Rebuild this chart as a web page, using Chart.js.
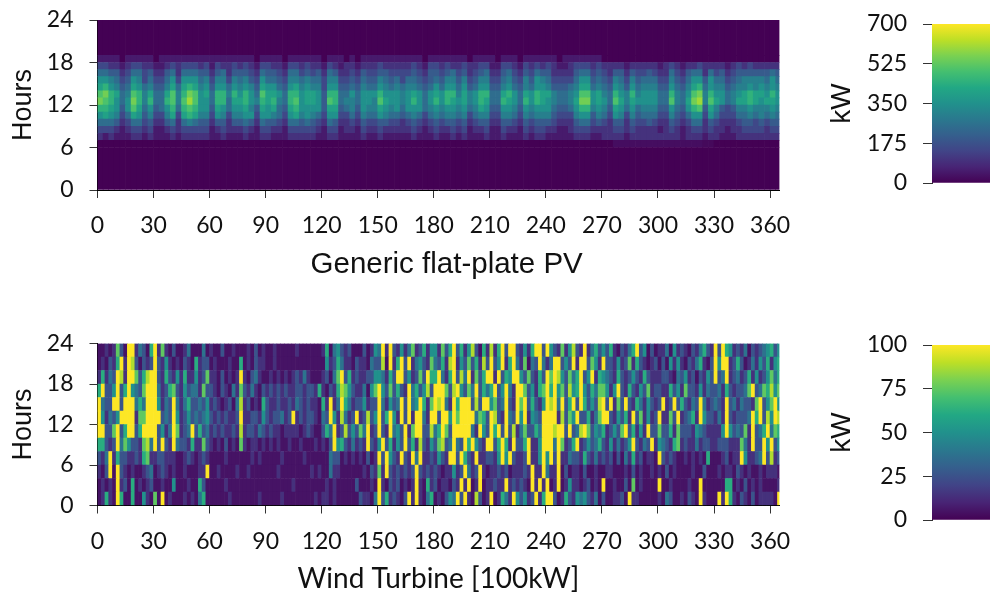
<!DOCTYPE html>
<html><head><meta charset="utf-8">
<script src="https://cdn.jsdelivr.net/npm/chart.js@4"></script>
<style>html,body{margin:0;padding:0;background:#fff;width:991px;height:597px;overflow:hidden}canvas{position:absolute}</style>
</head><body>
<canvas id="pv" style="left:0;top:0" width="800" height="290"></canvas>
<canvas id="wind" style="left:0;top:300px" width="800" height="297"></canvas>
<canvas id="pvBar" style="left:800px;top:0" width="191" height="200"></canvas>
<canvas id="windBar" style="left:800px;top:330px" width="191" height="200"></canvas>
<script>
// Axis ticks
const xStep = 30, hourStep = 6, hourMax = 24, dayMax = 365;
const pvBarMax = 700, pvBarStep = 175, windBarMax = 100, windBarStep = 25;
// Values, in levels per column. One PV level = 50 kW (3-day columns, 1-hour rows).
const pvKwPerLevel = 50;
const pvH18=[1,1,1,1,0,1,1,1,1,1,0,1,1,1,1,1,1,1,1,1,1,1,1,1,1,1,1,1,0,1,1,1,1,0,1,1,1,1,1,1,0,1,1,1,0,1,0,1,1,1,1,1,1,1,1,1,1,1,0,1,1,1,1,1,1,1,0,1,1,1,1,0,1,1,1,0,1,1,1,1,1,1,0,1,1,1,1,1,1,1,0,0,0,0,0,0,0,0,0,0,0,0,0,0,0,0,0,0,0,0,0,0,0,0,0,0,0,0,0,0,0,0];
const pvH17=[3,3,2,2,1,2,3,3,2,2,1,1,2,3,2,3,3,3,2,3,1,3,2,2,3,2,3,2,1,3,3,2,2,1,3,3,2,3,2,2,1,3,2,1,2,2,1,2,2,2,3,2,2,2,2,2,3,2,1,3,3,2,3,2,2,3,2,2,3,3,1,1,3,3,2,1,3,2,3,2,3,2,1,1,2,3,3,3,2,3,2,2,2,2,1,2,2,2,2,2,1,2,3,2,1,2,2,3,2,2,2,2,1,2,3,2,3,2,2,2,2,2];
const pvH16=[5,5,4,4,2,3,5,5,3,4,2,2,4,5,2,5,5,5,4,4,2,4,5,2,4,4,4,3,2,5,4,4,3,2,5,5,3,4,3,4,2,5,4,2,2,3,2,4,3,3,4,4,3,3,3,3,4,3,2,4,4,3,4,5,3,4,2,3,4,5,2,2,4,5,3,2,4,3,5,4,4,2,2,2,2,4,5,5,3,4,3,2,4,4,2,4,3,3,4,3,2,2,5,3,2,4,5,5,2,5,3,4,2,3,4,4,4,4,4,4,5,4];
const pvH15=[7,7,6,5,3,4,7,6,3,5,3,3,5,7,3,7,7,7,5,6,3,6,6,3,6,5,6,4,3,7,5,5,4,3,6,6,5,6,5,5,3,6,6,3,3,4,3,5,4,4,6,5,4,5,3,5,5,4,3,4,5,4,6,6,4,6,3,4,6,6,3,3,5,6,4,3,6,4,7,6,5,3,3,3,3,5,7,7,4,5,4,3,6,5,3,6,4,5,5,5,3,3,6,4,3,5,7,7,4,7,5,5,3,4,5,6,6,6,6,5,7,5];
const pvH14=[8,9,7,6,4,5,8,7,5,6,4,4,6,8,5,8,9,8,6,7,4,7,7,5,7,6,7,6,4,8,7,7,5,4,7,8,6,7,6,6,3,7,7,4,4,5,4,6,5,5,7,6,5,6,5,6,6,5,4,5,7,5,7,7,5,7,4,5,7,7,4,4,6,7,5,4,6,5,7,7,6,4,4,4,5,6,8,8,5,6,5,4,7,6,4,7,5,6,6,6,4,4,7,5,4,6,8,9,5,7,6,6,4,5,6,6,7,6,7,6,7,6];
const pvH13=[10,11,9,8,5,6,10,9,6,8,5,5,8,10,6,9,11,10,7,8,5,9,9,6,9,7,9,7,5,10,8,8,7,5,9,9,7,8,8,7,4,9,9,5,5,7,5,7,7,7,9,7,7,7,6,7,8,7,5,7,8,7,9,9,6,8,6,7,9,9,5,5,8,9,7,5,8,7,9,8,8,6,5,5,6,7,10,10,7,8,6,5,9,7,6,9,6,7,7,7,5,5,9,6,5,7,10,11,6,9,7,7,5,6,7,8,9,8,8,7,9,7];
const pvH12=[11,10,9,7,5,7,11,9,6,9,5,5,9,10,6,10,12,10,7,7,5,9,9,5,8,8,9,7,6,9,8,9,6,5,9,10,7,8,8,7,4,10,9,5,6,6,5,7,7,6,10,8,7,7,6,7,9,7,5,7,9,7,9,8,7,8,6,7,9,8,5,5,9,8,7,5,9,7,9,8,7,6,5,5,6,8,11,11,7,8,7,5,10,8,6,8,7,7,7,7,5,5,10,6,5,8,11,12,6,10,8,7,5,6,8,8,9,8,7,8,8,7];
const pvH11=[9,9,8,7,4,7,10,8,5,7,4,5,7,9,5,9,10,9,7,7,4,8,7,5,7,7,8,6,4,8,7,8,5,4,8,9,7,7,7,7,4,8,8,4,5,6,4,7,6,6,8,7,6,7,5,7,7,7,5,6,7,6,7,7,6,7,5,6,8,7,4,4,7,7,6,4,7,6,7,7,7,5,4,4,5,7,9,9,6,7,6,4,8,7,5,7,5,6,6,6,4,4,7,5,4,7,9,10,4,8,6,4,3,4,6,6,7,6,6,6,7,6];
const pvH10=[7,8,7,6,3,5,8,7,4,6,3,3,6,8,3,8,9,8,6,6,3,7,6,3,6,6,7,7,3,7,7,6,5,3,7,8,6,7,6,5,3,7,7,3,3,5,3,6,5,5,7,6,5,5,4,5,6,5,3,5,6,5,6,6,5,6,3,5,6,6,3,3,6,6,5,3,6,5,6,6,6,4,3,3,3,6,7,7,4,6,5,3,7,6,3,6,4,5,5,5,3,3,6,4,3,5,7,7,3,7,5,3,3,3,5,5,6,5,6,5,6,5];
const pvH9=[5,5,5,4,2,3,5,5,3,4,2,2,4,5,2,5,6,5,4,4,2,4,4,2,4,4,5,4,2,5,4,4,3,2,5,5,4,5,4,3,2,5,4,2,2,3,2,4,3,3,4,4,3,3,2,3,4,3,2,3,4,3,4,4,3,4,2,3,4,4,2,2,4,4,3,2,4,3,4,4,4,3,2,2,2,4,5,5,3,4,3,2,4,4,2,4,3,3,4,3,2,2,4,3,2,3,5,5,2,4,3,2,2,2,3,4,4,3,4,3,4,4];
const pvH8=[3,3,3,2,1,2,3,3,2,3,1,1,2,3,2,3,3,3,3,3,1,2,3,2,2,2,3,2,1,3,3,2,2,1,3,3,3,3,3,2,1,3,3,1,2,2,1,3,2,2,3,2,2,2,2,2,3,2,1,2,3,2,2,3,2,3,1,2,2,3,1,1,3,2,2,1,3,2,3,3,2,2,1,1,2,3,3,3,2,2,2,2,3,3,2,3,2,2,2,2,1,2,3,2,1,2,3,3,2,3,2,2,1,2,2,3,3,3,3,2,3,3];
const pvH7=[2,1,2,1,1,1,2,2,1,2,1,1,1,2,1,2,2,2,2,2,1,1,2,1,1,1,2,1,1,2,2,1,1,1,2,2,2,2,2,1,1,2,2,1,1,1,1,2,1,1,2,1,1,1,1,1,2,1,1,1,2,1,1,2,1,2,1,1,1,2,1,1,2,1,1,1,2,1,2,2,1,1,1,1,1,2,2,2,1,1,2,2,2,2,1,2,2,2,2,2,2,2,2,2,1,2,2,2,1,2,2,1,1,1,2,2,2,2,2,2,2,2];
const pvH6=[0,0,0,0,0,0,0,0,0,0,0,0,0,0,0,0,0,0,0,0,0,0,0,0,0,0,0,0,0,0,0,0,0,0,0,0,0,0,0,0,0,0,0,0,0,0,0,0,0,0,0,0,0,0,0,0,0,0,0,0,0,0,0,0,0,0,0,0,0,0,0,0,0,0,0,0,0,0,0,0,0,0,0,0,0,0,0,0,0,0,0,0,.5,.5,.5,.5,.5,.5,.5,.5,.5,.5,.5,.5,.5,.5,.5,.5,.3,.3,0,0,0,0,0,0,0,0,0,0,0,0];
// Wind levels 0-9 and the kW each level stands for (2-day columns, 2-hour rows).
const windLevelKw = [0,5,14,26,38,50,62,75,88,100];
const windH22=[1,1,2,1,2,7,3,1,9,9,2,4,3,1,6,9,2,7,2,1,3,1,1,2,4,1,1,1,4,1,2,1,1,3,1,1,2,1,1,1,2,1,3,1,2,1,1,2,1,1,1,1,1,2,1,1,1,1,1,1,2,6,1,4,5,3,2,3,1,1,1,3,1,2,5,4,9,2,9,3,2,5,2,4,7,2,3,6,2,5,5,2,7,3,6,9,3,6,2,5,8,3,1,6,2,8,2,6,9,3,9,9,3,2,5,2,6,9,9,3,9,5,3,2,7,2,5,8,3,2,9,2,4,6,3,5,3,6,2,1,3,2,4,6,9,3,5,1,3,1,2,2,4,1,5,2,3,2,1,3,2,4,6,3,2,9,3,9,6,5,2,3,2,4,1,3,2,3,4,5,6,3,5];
const windH20=[1,2,1,3,2,6,9,2,9,8,3,1,3,2,3,9,3,2,5,2,1,2,1,3,2,1,6,2,3,3,1,2,1,1,1,2,1,1,6,1,2,1,3,2,2,1,1,2,1,1,1,1,1,1,1,1,1,1,1,1,1,5,2,3,6,4,2,2,1,3,2,2,1,4,3,3,8,1,9,2,6,9,3,9,2,4,5,3,2,7,4,3,6,2,8,9,2,5,3,7,3,6,2,8,3,9,3,5,9,2,6,9,4,2,7,1,4,3,9,4,2,4,9,9,3,5,3,9,2,9,9,3,7,5,2,9,3,3,2,5,2,3,7,2,6,3,2,1,2,3,1,3,1,5,2,5,2,1,3,2,4,6,2,1,3,9,5,9,9,2,3,6,3,1,2,4,2,5,3,6,2,5,6];
const windH18=[2,6,2,4,3,9,8,2,9,9,7,3,6,8,9,9,3,2,6,3,2,5,2,6,2,2,5,2,3,7,2,2,1,3,1,2,1,2,9,2,1,3,4,2,1,1,2,1,2,1,2,1,2,3,2,4,2,1,1,1,2,3,1,4,7,9,3,6,2,3,2,2,3,3,5,5,4,2,6,3,9,9,3,5,2,3,7,3,9,6,6,9,4,2,6,9,3,8,4,9,2,7,3,6,9,9,2,9,3,6,5,9,9,5,3,7,3,2,6,3,9,7,9,8,5,3,7,4,6,9,3,5,9,2,6,5,4,3,2,6,3,2,3,5,3,2,6,3,2,2,2,3,3,2,1,4,3,5,2,3,1,3,2,5,3,9,3,4,9,2,3,4,2,3,6,2,5,2,3,5,7,4,6];
const windH16=[6,9,3,3,5,9,3,6,9,5,4,3,7,9,9,9,4,2,3,6,7,3,2,5,3,4,4,2,7,3,3,2,1,3,2,1,4,2,7,3,2,4,2,1,3,2,3,2,3,2,3,2,2,3,3,2,3,3,2,6,2,1,3,2,6,8,7,5,3,2,2,4,1,5,7,9,5,3,7,3,6,3,2,9,4,6,3,5,8,3,9,9,9,7,3,8,9,5,3,7,4,9,3,6,4,6,9,3,5,9,4,2,9,9,7,3,5,2,6,7,9,6,9,5,7,3,8,5,6,9,5,3,6,4,7,7,5,2,5,9,3,2,6,3,2,5,3,7,2,3,3,2,2,6,3,5,2,7,3,3,2,5,2,4,3,3,4,2,6,3,2,3,3,4,7,9,3,4,7,6,8,5,7];
const windH14=[9,4,3,3,9,9,3,9,9,9,4,6,4,9,9,9,5,2,4,3,9,4,2,4,6,3,3,4,3,5,2,3,2,1,2,3,1,4,8,2,3,1,2,1,6,3,2,2,3,2,2,3,2,4,3,2,3,2,2,1,6,2,9,2,4,9,6,4,2,3,3,5,2,3,3,9,4,2,5,3,4,9,3,9,4,5,9,6,2,7,9,8,9,4,2,9,6,9,9,9,3,8,3,9,9,5,7,3,4,9,3,2,9,7,9,3,6,3,2,5,9,8,9,4,9,3,6,9,3,9,6,3,5,3,8,9,3,9,2,7,3,9,3,2,6,4,2,5,3,2,3,9,2,3,9,3,6,3,2,4,3,9,4,2,3,4,3,2,9,3,4,2,4,3,3,2,7,9,3,5,7,9,5];
const windH12=[9,5,2,4,3,5,9,9,9,9,2,7,7,9,9,9,9,3,4,3,9,5,2,3,5,3,4,3,4,5,3,2,3,2,3,2,2,3,9,2,2,3,3,2,5,3,2,3,3,4,2,3,9,2,3,2,3,3,2,1,4,3,9,5,2,8,4,2,3,9,2,3,8,3,5,9,3,6,9,5,2,9,3,9,2,9,9,4,2,9,9,3,9,9,5,9,7,9,9,9,9,4,7,6,3,9,8,3,2,9,4,3,9,5,9,2,5,4,3,9,9,9,9,2,8,3,7,5,9,3,3,6,2,4,7,9,9,3,2,5,3,6,2,9,3,7,2,5,2,3,9,2,2,7,3,9,2,3,4,6,2,9,5,3,3,2,4,2,9,3,2,3,3,3,4,9,6,9,3,8,5,9,8];
const windH10=[9,9,3,3,7,9,3,6,9,9,3,6,9,9,9,9,3,5,2,4,9,7,2,3,4,9,3,6,3,4,2,3,2,3,2,2,3,2,8,2,3,3,2,4,3,2,3,2,2,1,2,2,2,2,1,2,3,2,1,1,3,6,4,9,2,3,8,3,5,3,7,4,9,2,3,9,3,2,9,4,5,3,9,2,7,9,9,3,3,8,4,6,9,7,3,9,9,9,9,9,4,2,9,5,3,9,6,9,3,9,3,8,2,4,7,3,3,6,4,9,9,9,8,9,9,3,9,3,4,8,9,7,3,5,4,6,2,3,5,3,7,9,3,6,2,5,2,9,3,3,7,3,3,6,2,7,3,3,3,2,5,4,3,2,2,2,2,5,9,5,3,4,3,7,2,9,3,4,6,9,4,7,6];
const windH8=[6,6,3,2,3,9,4,7,5,3,3,2,7,8,4,9,3,9,3,2,9,4,3,3,2,6,2,2,7,3,2,1,2,1,3,1,2,1,7,2,1,2,2,1,2,1,2,1,2,1,1,2,1,1,2,1,1,1,2,1,2,1,3,9,5,6,3,2,4,2,3,2,9,3,2,5,9,3,6,2,5,3,9,3,6,2,8,3,2,5,3,7,8,3,4,9,4,3,9,6,9,5,3,2,9,9,3,6,9,6,2,9,3,3,6,9,2,2,5,9,9,9,4,9,7,2,3,6,9,2,3,5,3,4,6,3,2,5,2,4,2,3,5,9,3,2,4,3,9,2,5,4,3,2,6,7,2,3,2,2,4,2,3,3,2,2,3,3,3,2,2,2,7,4,2,9,3,3,9,5,9,3,5];
const windH6=[3,2,4,9,2,6,3,3,2,2,3,2,6,7,2,2,3,3,2,2,2,1,1,2,3,2,1,2,3,2,1,1,1,1,2,1,1,1,1,1,1,2,1,2,1,1,1,1,1,2,1,1,1,1,1,2,1,1,1,1,1,1,4,3,3,1,2,1,2,1,2,1,3,1,2,9,3,9,5,3,2,9,3,2,9,4,9,2,2,3,2,5,3,2,9,9,3,9,6,3,2,9,2,2,3,3,2,5,9,5,9,3,2,2,3,9,2,2,5,9,5,9,3,9,2,2,4,3,3,2,6,3,2,4,2,3,2,3,1,3,1,4,2,6,2,3,1,2,2,1,9,3,2,3,2,1,1,2,1,2,1,2,1,6,1,1,1,2,3,1,2,2,9,5,2,2,3,4,9,3,8,2,3];
const windH4=[2,1,3,9,1,9,3,2,1,2,1,1,2,3,4,1,2,3,2,1,2,1,1,2,1,1,1,2,2,9,1,1,2,1,1,1,1,2,1,1,2,1,1,1,1,1,1,1,2,1,1,1,1,1,1,1,1,2,1,2,1,1,4,2,2,1,1,1,1,1,1,2,1,3,2,7,2,9,3,2,3,2,3,2,3,9,3,2,3,2,3,2,1,2,2,5,2,3,9,4,2,3,9,2,1,2,2,3,2,3,1,2,2,2,3,2,9,2,2,9,4,2,2,9,1,3,1,2,2,1,3,1,1,2,1,1,2,2,1,1,1,2,1,3,1,2,1,1,2,1,2,1,3,1,2,1,1,1,1,2,1,1,3,1,1,1,2,1,2,2,1,3,2,1,2,1,1,2,1,2,2,2,1];
const windH2=[1,2,1,2,1,9,2,3,1,6,1,2,1,2,3,1,1,2,1,1,5,1,1,1,2,1,1,6,3,1,1,1,1,1,2,1,1,1,1,1,1,1,1,1,1,1,1,1,1,1,1,1,2,1,1,1,1,1,1,1,1,2,1,2,1,1,1,1,1,3,1,1,1,2,1,9,2,1,3,2,3,1,2,1,2,9,2,1,6,2,3,1,2,2,1,3,2,9,2,9,1,2,9,1,2,2,3,2,2,9,2,3,2,3,2,1,9,2,9,2,9,1,2,9,1,2,5,2,2,1,2,3,1,2,1,9,1,1,2,1,1,3,1,7,1,2,1,1,1,1,9,1,1,2,1,1,1,1,2,1,1,9,1,1,1,1,1,1,6,6,1,2,1,3,1,2,1,2,1,1,1,1,2];
const windH0=[1,2,6,2,1,9,6,1,1,6,1,1,5,2,1,7,1,9,1,2,1,1,1,2,1,2,1,4,6,1,1,1,1,1,1,2,1,1,1,1,1,1,1,2,1,1,1,1,1,2,1,1,1,1,1,1,1,1,2,1,2,2,1,2,1,1,1,1,1,1,3,2,2,1,4,9,3,6,2,3,2,1,3,9,2,9,2,1,4,6,1,2,1,3,5,4,9,3,9,2,1,8,3,1,2,9,1,2,6,4,2,9,5,3,5,2,3,9,2,6,9,9,3,1,2,6,3,2,5,4,5,3,2,4,1,3,1,1,2,2,3,1,9,2,2,1,1,1,1,1,2,1,4,3,1,1,2,1,3,2,1,9,2,1,1,1,9,2,9,6,2,1,3,2,1,3,1,2,2,2,2,1,9];

const viridis=[[68,1,84],[72,36,117],[65,68,135],[53,95,141],[42,120,142],[33,145,140],[34,168,132],[68,191,112],[122,209,81],[189,223,38],[253,231,37]];
function color(t){
  t=Math.max(0,Math.min(1,t))*(viridis.length-1);
  const i=Math.min(Math.floor(t),viridis.length-2),f=t-i,a=viridis[i],b=viridis[i+1];
  return `rgb(${a.map((v,k)=>Math.round(v+(b[k]-v)*f)).join(',')})`;
}
Chart.defaults.animation=false;
const tickFont={family:'Lato',size:23};
const ink='#111';
function zeroPad(s){s.paddingLeft=0;s.paddingRight=0;s.paddingTop=0;s.paddingBottom=0}
function rowDataset(kwValues,h0,h1,colDays,max){
  return {
    data:kwValues.map((_,i)=>({x:colDays*i+colDays/2,y:[h0,h1]})),
    backgroundColor:kwValues.map(v=>color(v/max)),
    barPercentage:1,categoryPercentage:1,grouped:false,borderWidth:0
  };
}
function heat(id,rows,cfg){
  new Chart(document.getElementById(id),{
    type:'bar',
    data:{datasets:rows},
    options:{
      responsive:false,
      layout:{autoPadding:false,padding:{left:0,right:20.6,top:cfg.top,bottom:0}},
      plugins:{legend:{display:false},tooltip:{enabled:false}},
      scales:{
        x:{type:'linear',min:0,max:dayMax,offset:false,
           afterFit:s=>{s.height=cfg.xh;zeroPad(s)},
           grid:{display:true,offset:false,drawOnChartArea:false,tickLength:8,color:'#333',tickColor:'#333'},
           border:{display:true,color:'#000'},
           ticks:{stepSize:xStep,includeBounds:false,font:tickFont,color:ink,padding:cfg.tickPad,maxRotation:0,autoSkip:false},
           title:{display:true,text:cfg.title,font:cfg.titleFont,color:ink,padding:cfg.titlePad}},
        y:{type:'linear',min:0,max:hourMax,
           afterFit:s=>{s.width=97.5;zeroPad(s)},
           grid:{display:true,drawOnChartArea:false,tickLength:8,color:'#333',tickColor:'#333'},
           border:{display:true,color:'#000'},
           ticks:{stepSize:hourStep,font:tickFont,color:ink,padding:16},
           title:{display:true,text:'Hours',font:{family:'Liberation Sans',size:27},color:ink,padding:{top:7,bottom:0}}}
      }
    }
  });
}
function cbar(id,max,step,top,bottomPad){
  new Chart(document.getElementById(id),{
    type:'bar',
    data:{labels:['kW'],datasets:[{
      data:[[0,max]],
      barPercentage:1,categoryPercentage:1,borderWidth:0,
      backgroundColor:c=>{
        const a=c.chart.chartArea; if(!a) return color(0);
        const g=c.chart.ctx.createLinearGradient(0,a.bottom,0,a.top);
        viridis.forEach((_,i)=>g.addColorStop(i/(viridis.length-1),color(i/(viridis.length-1))));
        return g;
      }}]},
    options:{
      responsive:false,
      layout:{autoPadding:false,padding:{left:0,right:1,top:top,bottom:bottomPad}},
      plugins:{legend:{display:false},tooltip:{enabled:false}},
      scales:{
        x:{display:false},
        y:{min:0,max:max,afterFit:s=>{s.width=132;zeroPad(s)},
           grid:{display:true,drawOnChartArea:false,tickLength:9,color:'#333',tickColor:'#333'},
           border:{display:true,color:'#333'},
           ticks:{stepSize:step,font:tickFont,color:ink,padding:16},
           title:{display:true,text:'kW',font:{family:'Liberation Sans',size:28},color:ink,padding:{top:25,bottom:0}}}
      }
    }
  });
}
const pvKw=r=>r.map(v=>v*pvKwPerLevel);
const pvZero=pvH6.map(()=>0);
const pvRows=[
  rowDataset(pvZero,0,6,3,pvBarMax),
  rowDataset(pvKw(pvH6),6,7,3,pvBarMax),
  rowDataset(pvKw(pvH7),7,8,3,pvBarMax),
  rowDataset(pvKw(pvH8),8,9,3,pvBarMax),
  rowDataset(pvKw(pvH9),9,10,3,pvBarMax),
  rowDataset(pvKw(pvH10),10,11,3,pvBarMax),
  rowDataset(pvKw(pvH11),11,12,3,pvBarMax),
  rowDataset(pvKw(pvH12),12,13,3,pvBarMax),
  rowDataset(pvKw(pvH13),13,14,3,pvBarMax),
  rowDataset(pvKw(pvH14),14,15,3,pvBarMax),
  rowDataset(pvKw(pvH15),15,16,3,pvBarMax),
  rowDataset(pvKw(pvH16),16,17,3,pvBarMax),
  rowDataset(pvKw(pvH17),17,18,3,pvBarMax),
  rowDataset(pvKw(pvH18),18,19,3,pvBarMax),
  rowDataset(pvZero,19,24,3,pvBarMax)
];
const windSeries=[windH0,windH2,windH4,windH6,windH8,windH10,windH12,windH14,windH16,windH18,windH20,windH22];
const windRows=windSeries.map((r,i)=>rowDataset(r.map(l=>windLevelKw[l]),i*2,i*2+2,2,windBarMax));
heat('pv',pvRows,{top:20,xh:100,tickPad:14,title:'  Generic flat-plate PV',titleFont:{family:'Liberation Sans',size:29.5},titlePad:{top:0,bottom:7}});
heat('wind',windRows,{top:43.5,xh:91.5,tickPad:14,title:'Wind Turbine [100kW]',titleFont:{family:'Lato',size:28},titlePad:{top:0,bottom:1}});
cbar('pvBar',pvBarMax,pvBarStep,24,17);
cbar('windBar',windBarMax,windBarStep,15,10);
</script>
</body></html>
